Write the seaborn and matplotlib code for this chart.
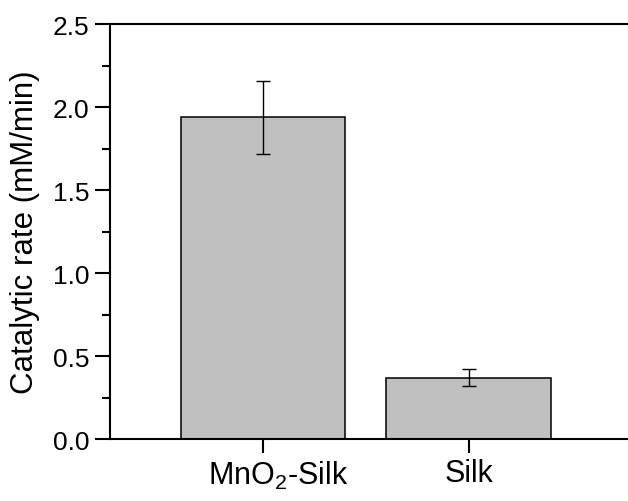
import numpy as np
import pandas as pd
import matplotlib
matplotlib.use('Agg')
import matplotlib.pyplot as plt
import matplotlib.transforms as mtransforms
import seaborn as sns

# Данные
categories = ['MnO$_2$-Silk', 'Silk']
rates = [1.94, 0.37]
errs = [0.22, 0.05]

sns.set_style('ticks')
plt.rcParams['font.family'] = ['Liberation Sans', 'DejaVu Sans']
plt.rcParams['mathtext.fontset'] = 'custom'
plt.rcParams['mathtext.rm'] = 'Liberation Sans'
plt.rcParams['text.color'] = 'black'
plt.rcParams['axes.labelcolor'] = 'black'
plt.rcParams['xtick.color'] = 'black'
plt.rcParams['ytick.color'] = 'black'

df = pd.DataFrame({'cat': categories, 'rate': rates})

fig = plt.figure(figsize=(6.28, 5.02), dpi=100)
ax = fig.add_axes([0.175, 0.1235, 0.83, 0.8265])

sns.barplot(data=df, x='cat', y='rate', color='#c0c0c0', saturation=1,
            edgecolor='black', linewidth=1.1, width=0.8, errorbar=None, ax=ax)
ax.errorbar(categories, rates, yerr=errs, fmt='none', ecolor='black',
            elinewidth=1.0, capsize=5, capthick=1.0)

ax.set_xlim(-0.745, 1.79)
ax.set_ylim(0, 2.5)
ax.set_yticks(np.arange(0, 2.51, 0.5))
ax.set_yticks(np.arange(0.25, 2.5, 0.5), minor=True)
ax.set_yticklabels(['0.0', '0.5', '1.0', '1.5', '2.0', '2.5'])

ax.set_xlabel('')
ax.set_ylabel('Catalytic rate (mM/min)', fontsize=22.5, labelpad=9)

for s in ['left', 'top', 'bottom']:
    ax.spines[s].set_linewidth(1.5)
    ax.spines[s].set_color('black')
ax.spines['right'].set_visible(False)

ax.tick_params(axis='y', which='major', length=11, width=1.5, labelsize=19, direction='out', pad=4)
ax.tick_params(axis='y', which='minor', length=6, width=1.5, direction='out')
ax.tick_params(axis='x', which='major', length=10, width=1.5, labelsize=22, direction='out', pad=4)

# первая подпись в оригинале чуть сдвинута вправо
lbl = ax.get_xticklabels()[0]
lbl.set_transform(lbl.get_transform() + mtransforms.ScaledTranslation(0.15, 0, fig.dpi_scale_trans))

fig.savefig('out.png', dpi=100)
